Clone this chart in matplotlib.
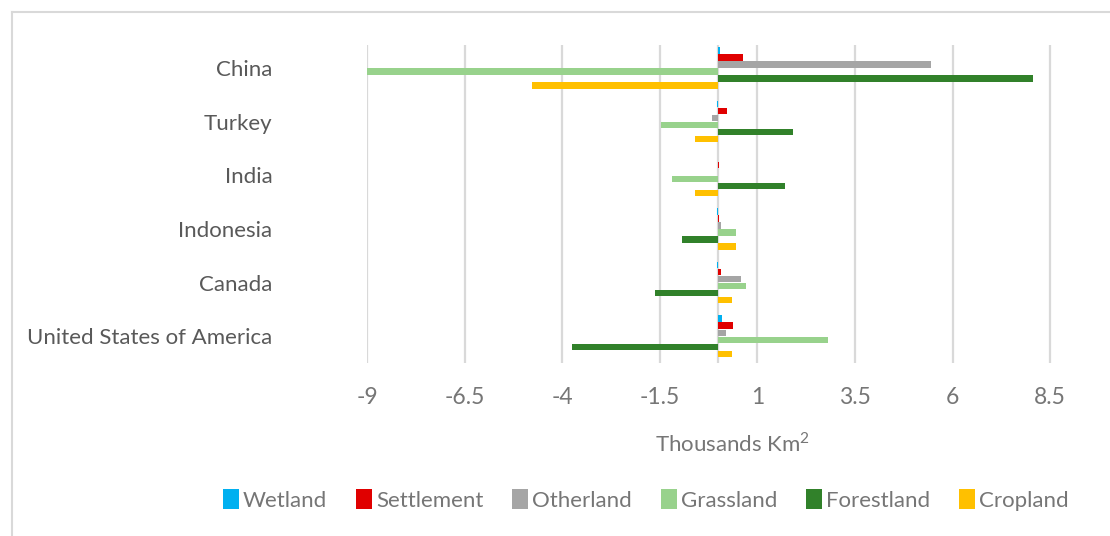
import numpy as np
import matplotlib
matplotlib.use('Agg')
import matplotlib.pyplot as plt
from matplotlib.lines import Line2D
from matplotlib.patches import Patch

plt.rcParams['font.family'] = ['Lato', 'DejaVu Sans']
plt.rcParams['mathtext.fontset'] = 'custom'
plt.rcParams['mathtext.rm'] = 'Lato'

countries = ["China", "Turkey", "India", "Indonesia", "Canada",
             "United States of America"]
series = ["Wetland", "Settlement", "Otherland", "Grassland", "Forestland",
          "Cropland"]
colors = ["#00B0F0", "#E00000", "#A5A5A5", "#98D28C", "#31812A", "#FFC000"]

# thousands km2, one list per land class, in the order of countries
wetland = [0.03, -0.03, -0.01, -0.04, -0.04, 0.10]
settlement = [0.63, 0.23, 0.02, 0.01, 0.06, 0.37]
otherland = [5.46, -0.15, 0.0, 0.08, 0.57, 0.20]
grassland = [-9.0, -1.47, -1.18, 0.46, 0.72, 2.81]
forestland = [8.05, 1.91, 1.72, -0.94, -1.61, -3.74]
cropland = [-4.77, -0.60, -0.60, 0.46, 0.35, 0.34]

xticks = [-9, -6.5, -4, -1.5, 1, 3.5, 6, 8.5]
xtick_labels = ["-9", "-6.5", "-4", "-1.5", "1", "3.5", "6", "8.5"]

values = [wetland, settlement, otherland, grassland, forestland, cropland]
text_color = "#595959"
light_text = "#767676"
grid_color = "#D9D9D9"

fig = plt.figure(figsize=(11.10, 5.36), dpi=100)
W, H = 1110, 536
ax = fig.add_axes([367 / W, 1 - 363 / H, (1097 - 367) / W, (363 - 45) / H])

centers = np.arange(len(countries))[::-1]  # China on top
step = 0.131
for i, (name, vals) in enumerate(zip(series, values)):
    ypos = centers + (2.5 - i) * step
    ax.barh(ypos, vals, height=step * 0.9, color=colors[i], label=name,
            zorder=3, linewidth=0)

ax.set_xlim(-9, 9.7)
ax.set_ylim(-0.5, 5.43)
ax.set_xticks(xticks)
ax.set_xticklabels(xtick_labels)
ax.set_yticks(centers)
ax.set_yticklabels(countries)
ax.tick_params(axis='x', length=0, labelsize=16.5, colors=light_text, pad=17)
ax.tick_params(axis='y', length=0, labelsize=16, colors=text_color, pad=68)
ax.grid(axis='x', color=grid_color, linewidth=1.6, zorder=0)
ax.axvline(0, color=grid_color, linewidth=1.6, zorder=1)
for s in ax.spines.values():
    s.set_visible(False)

fig.text(732 / W, 1 - 444 / H, r"Thousands Km$^2$", ha='center', va='center',
         fontsize=16, color=light_text)

handles = [Patch(facecolor=c, edgecolor='none') for c in colors]
fig.legend(handles, series, loc='center', bbox_to_anchor=(646 / W, 1 - 500 / H),
           ncol=6, frameon=False, fontsize=16, labelcolor=light_text,
           handlelength=0.7, handleheight=0.95, handletextpad=0.2,
           columnspacing=1.3)

# chart border
fig.add_artist(Line2D([12 / W, 1], [1 - 12 / H, 1 - 12 / H],
                      transform=fig.transFigure, color=grid_color, linewidth=1.5))
fig.add_artist(Line2D([12 / W, 12 / W], [0, 1 - 12 / H],
                      transform=fig.transFigure, color=grid_color, linewidth=1.5))

fig.savefig("out.png", dpi=100, facecolor='white')
